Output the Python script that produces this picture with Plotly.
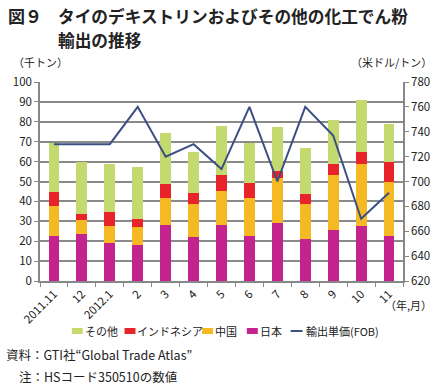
import plotly.graph_objects as go

months = ["2011.11", "12", "2012.1", "2", "3", "4", "5", "6", "7", "8", "9", "10", "11"]
japan = [22.6, 23.8, 18.9, 18.3, 28.1, 22.3, 28.0, 22.8, 29.0, 21.1, 25.8, 27.6, 22.6]
china = [15.1, 6.9, 8.9, 8.8, 13.6, 16.4, 17.1, 18.9, 22.8, 17.4, 27.5, 31.3, 27.1]
indonesia = [6.9, 2.8, 6.9, 4.2, 7.2, 5.7, 8.2, 7.7, 3.6, 5.4, 5.6, 6.1, 10.3]
other = [24.6, 26.1, 24.1, 26.0, 25.5, 20.3, 24.6, 20.1, 21.8, 23.1, 21.8, 26.0, 19.0]
price = [730, 730, 730, 760, 720, 730, 710, 760, 700, 760, 737, 670, 691]

W, H = 442, 387
L, R, T, B = 40, 405, 82, 281

def px(x, y):
    return (x - L) / (R - L), (B - y) / (B - T)

FONT = "Noto Sans CJK JP"
COLORS = {"日本": "#C4238E", "中国": "#F5B924", "インドネシア": "#E8242A", "その他": "#C5DA6E"}
LINE_COLOR = "#3B4F83"

fig = go.Figure()
for name, vals in [("日本", japan), ("中国", china), ("インドネシア", indonesia), ("その他", other)]:
    fig.add_trace(go.Bar(x=months, y=vals, name=name, marker_color=COLORS[name],
                         marker_line_width=0))
fig.add_trace(go.Scatter(x=months, y=price, name="輸出単価(FOB)", yaxis="y2",
                         mode="lines", line=dict(color=LINE_COLOR, width=2)))

ann = []
shapes = []
def text(x, y, s, size=12, anchor="left", bold=False, color="#222"):
    ax, ay = px(x, y)
    ann.append(dict(x=ax, y=ay, xref="paper", yref="paper", text=f"<b>{s}</b>" if bold else s,
                    showarrow=False, xanchor=anchor, yanchor="middle",
                    font=dict(family=FONT, size=size, color=color)))

text(6, 16, "図９", 17, bold=True)
text(56, 16, "タイのデキストリンおよびその他の化工でん粉", 16.7, bold=True)
text(56, 40, "輸出の推移", 16.7, bold=True)
text(11, 62, "（千トン）", 11)
text(436, 62, "（米ドル/トン）", 11, anchor="right")
text(436, 305, "（年,月）", 11, anchor="right")
text(4, 354, "資料：GTI社“Global Trade Atlas”", 12.5)
text(17, 376, "注：HSコード350510の数値", 12.5)

# legend (manual, placed like the reference)
ly = 331
for name, x0 in [("その他", 72), ("インドネシア", 125), ("中国", 203), ("日本", 248)]:
    a0, b0 = px(x0, ly - 3)
    a1, b1 = px(x0 + 11, ly + 3)
    shapes.append(dict(type="rect", xref="paper", yref="paper", x0=a0, x1=a1, y0=b1, y1=b0,
                       fillcolor=COLORS[name], line_width=0))
    text(x0 + 11, ly, name, 11)
a0, b0 = px(292, ly)
a1, _ = px(304, ly)
shapes.append(dict(type="line", xref="paper", yref="paper", x0=a0, x1=a1, y0=b0, y1=b0,
                   line=dict(color=LINE_COLOR, width=2)))
text(305, ly, "輸出単価(FOB)", 11)

fig.update_layout(
    width=W, height=H, barmode="stack", bargap=0.61,
    margin=dict(l=L, r=W - R, t=T, b=H - B),
    paper_bgcolor="white", plot_bgcolor="white",
    font=dict(family=FONT, size=12, color="#222"),
    showlegend=False,
    xaxis=dict(type="category", tickangle=-45, showline=True, linecolor="#888", linewidth=1.5,
               ticks="outside", ticklen=4, tickcolor="#888", tickson="boundaries",
               tickfont=dict(size=11.5)),
    yaxis=dict(range=[0, 100], dtick=10, showgrid=True, gridcolor="#8a8a8a", gridwidth=1.5,
               showline=True, linecolor="#888", linewidth=1.5, ticks="outside", ticklen=4,
               tickcolor="#888", zeroline=False, tickfont=dict(size=11.5)),
    yaxis2=dict(range=[620, 780], dtick=20, overlaying="y", side="right", showgrid=False,
                showline=True, linecolor="#888", linewidth=1.5, ticks="outside", ticklen=4,
                tickcolor="#888", zeroline=False, tickfont=dict(size=11.5)),
    annotations=ann, shapes=shapes,
)
fig.write_html("out.html", config={"displayModeBar": False},
               post_script="document.body.style.margin='0px';")
